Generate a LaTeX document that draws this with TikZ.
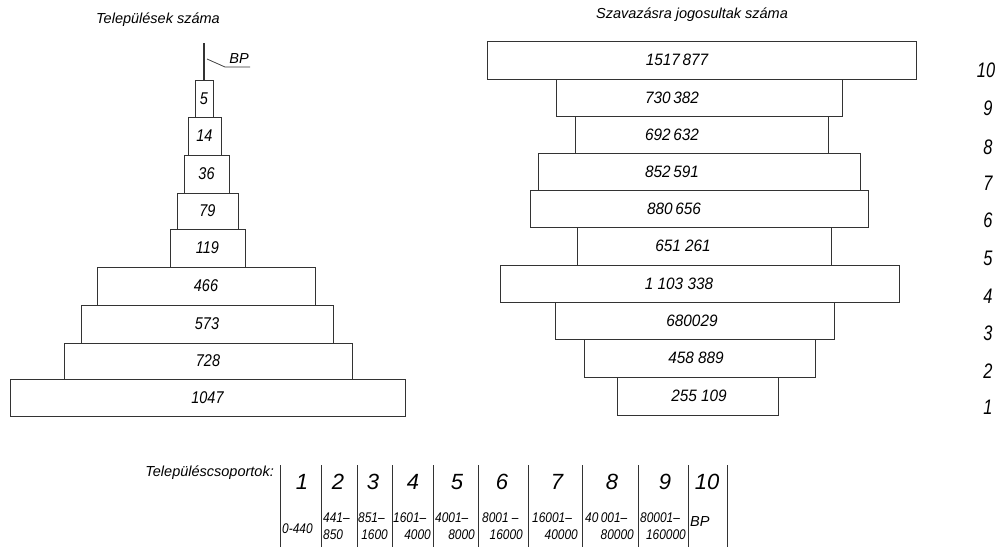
\documentclass[tikz,border=0pt]{standalone}
\usepackage{fontspec}
\setmainfont{Liberation Sans}
\newfontfamily\condfont[FakeStretch=0.85]{Liberation Sans}
\newfontfamily\rfont[FakeStretch=0.93]{Liberation Sans}
\newfontfamily\narrowfont[FakeStretch=0.78]{Liberation Sans}
\begin{document}
\begin{tikzpicture}[x=1pt,y=-1pt,
  ln/.style={draw=black!80, line width=0.75pt},
  box/.style={ln, inner sep=0pt, outer sep=0pt, font=\condfont\itshape\fontsize{17}{17}\selectfont},
  rlab/.style={inner sep=0pt, font=\rfont\itshape\fontsize{16.5}{17}\selectfont},
  ttl/.style={font=\itshape\fontsize{14.5}{15}\selectfont},
  grp/.style={font=\itshape\fontsize{22}{22}\selectfont, inner sep=0pt},
  side/.style={font=\narrowfont\itshape\fontsize{21}{21}\selectfont, inner sep=0pt},
  rng/.style={font=\condfont\itshape\fontsize{14}{14}\selectfont, inner sep=0pt},
  lab/.style={font=\itshape\fontsize{14.5}{15}\selectfont, inner sep=0pt}]
\newcommand\pbox[6]{\node[box, minimum width={#4-#2}, minimum height={#5-#3}] (#1) at ({(#2+#4)/2},{(#3+#5)/2}) {#6};}
\newcommand\rbox[7]{\node[box, minimum width={#4-#2}, minimum height={#5-#3}] (#1) at ({(#2+#4)/2},{(#3+#5)/2}) {};
  \node[rlab] (#1t) at (#6,{(#3+#5)/2}) {#7};}
\useasboundingbox (0,0) rectangle (1002,549);
% titles
\node[ttl] (t1) at (158,20) {Települések száma};
\node[ttl] (t2) at (692,15) {Szavazásra jogosultak száma};
% left pyramid
\pbox{l10}{195}{80}{213}{117}{5}
\pbox{l9}{188}{117}{221}{155}{14}
\pbox{l8}{184}{155}{229}{193}{36}
\pbox{l7}{177}{193}{238}{229}{79}
\pbox{l6}{170}{229}{245}{267}{119}
\pbox{l5}{97}{267}{315}{305}{466}
\pbox{l4}{81}{305}{333}{343}{573}
\pbox{l3}{64}{343}{352}{379}{728}
\pbox{l2}{10}{379}{405}{416}{1047}
\coordinate (stemtop) at (204,43);
\draw[ln, line width=1.2pt] (stemtop) -- (l10.north -| stemtop);
\coordinate (bpa) at (207,59);
\coordinate (bpb) at (225,67);
\coordinate (bpc) at (250,67);
\draw[ln] (bpa) -- (bpb) -- (bpc);
\node[lab, anchor=south] (bp) at (239,64) {BP};
% right pyramid
\rbox{r10}{487}{41}{916}{79}{677}{1517\,877}
\rbox{r9}{556}{79}{842}{116}{672}{730\,382}
\rbox{r8}{575}{116}{828}{153}{672}{692\,632}
\rbox{r7}{538}{153}{860}{190}{672}{852\,591}
\rbox{r6}{530}{190}{868}{227}{674}{880\,656}
\rbox{r5}{577}{227}{831}{265}{683}{651 261}
\rbox{r4}{500}{265}{899}{302}{679}{1 103 338}
\rbox{r3}{555}{302}{834}{339}{692}{680029}
\rbox{r2}{584}{339}{815}{377}{696}{458 889}
\rbox{r1}{617}{377}{778}{415}{699}{255 109}
% group numbers on the right
\node[side] (g10) at (986,70) {10};
\node[side] (g9) at (988,108) {9};
\node[side] (g8) at (988,147) {8};
\node[side] (g7) at (988,183) {7};
\node[side] (g6) at (988,220) {6};
\node[side] (g5) at (988,258) {5};
\node[side] (g4) at (988,296) {4};
\node[side] (g3) at (988,333) {3};
\node[side] (g2) at (988,371) {2};
\node[side] (g1) at (988,407) {1};
% table
\node[lab, anchor=east] (tc) at (274,473) {Településcsoportok:};
\foreach \x in {280,321,357,392,433,478,528,582,638,688,727}
  \draw[ln] (\x,465) -- (\x,547);
\node[grp] (c1) at (302,482) {1};
\node[grp] (c2) at (338,482) {2};
\node[grp] (c3) at (373,482) {3};
\node[grp] (c4) at (413,482) {4};
\node[grp] (c5) at (457,482) {5};
\node[grp] (c6) at (502,482) {6};
\node[grp] (c7) at (557,482) {7};
\node[grp] (c8) at (612,482) {8};
\node[grp] (c9) at (665,482) {9};
\node[grp] (c10) at (707,482) {10};
\node[rng, anchor=west] (a1) at (282,529) {0-440};
\node[rng, anchor=west] (a2) at (323,518) {441–};
\node[rng, anchor=west] (b2) at (323,535) {850};
\node[rng, anchor=west] (a3) at (358,518) {851–};
\node[rng, anchor=east] (b3) at (388,535) {1600};
\node[rng, anchor=west] (a4) at (393,518) {1601–};
\node[rng, anchor=east] (b4) at (431,535) {4000};
\node[rng, anchor=west] (a5) at (435,518) {4001–};
\node[rng, anchor=east] (b5) at (475,535) {8000};
\node[rng, anchor=west] (a6) at (482,518) {8001 –};
\node[rng, anchor=east] (b6) at (523,535) {16000};
\node[rng, anchor=west] (a7) at (532,518) {16001–};
\node[rng, anchor=east] (b7) at (578,535) {40000};
\node[rng, anchor=west] (a8) at (585,518) {40\,001–};
\node[rng, anchor=east] (b8) at (634,535) {80000};
\node[rng, anchor=west] (a9) at (640,518) {80001–};
\node[rng, anchor=east] (b9) at (686,535) {160000};
\node[lab, anchor=west] (a10) at (690,522) {BP};
\end{tikzpicture}
\end{document}
